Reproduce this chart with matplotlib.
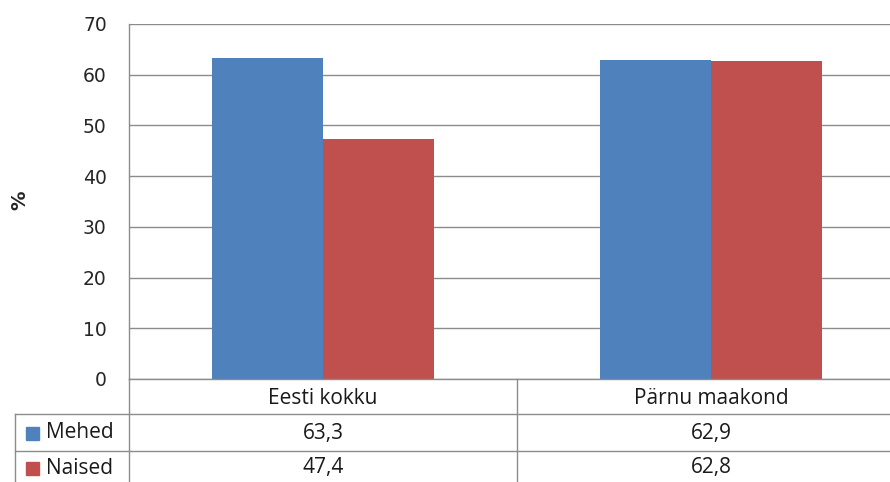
import matplotlib
matplotlib.use("Agg")
import matplotlib.pyplot as plt
import matplotlib.transforms as mtransforms
import numpy as np

categories = ["Eesti kokku", "Pärnu maakond"]
series_names = ["Mehed", "Naised"]
mehed = [63.3, 62.9]
naised = [47.4, 62.8]
colors = ["#4F81BD", "#C0504D"]
y_ticks = [0, 10, 20, 30, 40, 50, 60, 70]

W, H = 890, 482
fig = plt.figure(figsize=(W / 100, H / 100), dpi=100)

def fx(px):
    return px / W

def fy(py):
    return 1 - py / H

left_px, right_px, top_px, bottom_px = 129, 905, 24, 379
ax = fig.add_axes([fx(left_px), fy(bottom_px), fx(right_px - left_px),
                   (bottom_px - top_px) / H])

x = np.arange(len(categories))
bw = 0.286
values = [mehed, naised]
for i, (vals, col) in enumerate(zip(values, colors)):
    ax.bar(x + (i - 0.5) * bw, vals, width=bw, color=col, zorder=3,
           linewidth=0)

ax.set_xlim(-0.5, len(categories) - 0.5)
ax.set_ylim(0, 70)
ax.set_yticks(y_ticks)
ax.set_yticklabels([str(t) for t in y_ticks], fontsize=13.5, color="#262626",
                   family="DejaVu Sans")
ax.tick_params(axis="y", length=0, pad=16)
ax.tick_params(axis="x", length=0, labelbottom=False)
ax.yaxis.grid(True, color="#8C8C8C", linewidth=1.0, zorder=0)
for s in ["top", "right", "bottom"]:
    ax.spines[s].set_visible(False)
ax.spines["left"].set_color("#8C8C8C")
ax.spines["left"].set_linewidth(1.0)
ax.spines["left"].set_bounds(0, 70)

fig.text(fx(20), fy(200), "%", rotation=90, fontsize=14, fontweight="bold",
         ha="center", va="center", color="#262626")

# data table under the plot
line_col = "#8C8C8C"
trans = mtransforms.blended_transform_factory(ax.transData, fig.transFigure)
row_lines = [379, 414, 451]
for k, py in enumerate(row_lines):
    x0 = left_px if k == 0 else 15
    fig.add_artist(plt.Line2D([fx(x0), fx(W + 20)], [fy(py), fy(py)],
                              color=line_col, linewidth=1.0))
fig.add_artist(plt.Line2D([fx(left_px), fx(left_px)], [fy(bottom_px), fy(H + 5)],
                          color=line_col, linewidth=1.0))
fig.add_artist(plt.Line2D([fx(15), fx(15)], [fy(414), fy(H + 5)],
                          color=line_col, linewidth=1.0))
for b in np.arange(len(categories) - 1) + 0.5:
    fig.add_artist(plt.Line2D([b, b], [fy(bottom_px), fy(H + 5)],
                              transform=trans, color=line_col, linewidth=1.0))

tfont = dict(fontsize=15, color="#1A1A1A", family="Open Sans")
row_y = [398, 433, 468]
for xi, cat in zip(x, categories):
    ax.text(xi, fy(row_y[0]), cat, transform=trans, ha="center", va="center",
            **tfont)
for r, (name, vals, col) in enumerate(zip(series_names, values, colors)):
    yy = fy(row_y[r + 1])
    fig.add_artist(plt.Rectangle((fx(26), yy - 6.5 / H), 13 / W, 13 / H,
                                 transform=fig.transFigure, color=col))
    fig.text(fx(46), yy, name, ha="left", va="center", **tfont)
    for xi, v in zip(x, vals):
        ax.text(xi, yy, f"{v:.1f}".replace(".", ","), transform=trans,
                ha="center", va="center", **tfont)

fig.savefig("out.png", dpi=100)
